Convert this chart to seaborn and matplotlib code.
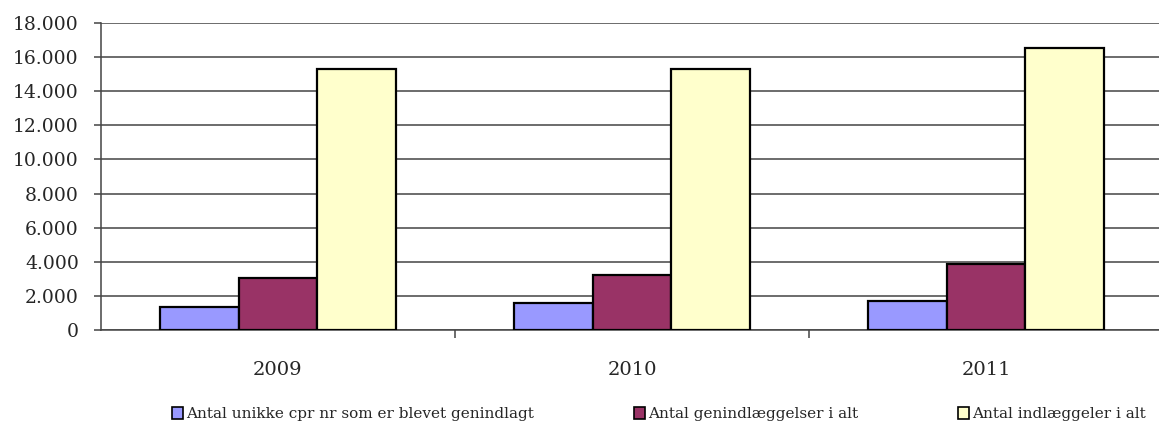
import matplotlib
matplotlib.use("Agg")
import matplotlib.pyplot as plt
import matplotlib.ticker as mticker
from matplotlib.patches import Patch
import seaborn as sns
import pandas as pd

years = ["2009", "2010", "2011"]
series = ["Antal unikke cpr nr som er blevet genindlagt",
          "Antal genindlæggelser i alt",
          "Antal indlæggeler i alt"]
unikke = [1370, 1560, 1720]
genindl = [3030, 3200, 3870]
indl = [15300, 15300, 16520]
colors = ["#9999FF", "#993366", "#FFFFCC"]
yticks = [0, 2000, 4000, 6000, 8000, 10000, 12000, 14000, 16000, 18000]

rows = []
for s, vals in zip(series, [unikke, genindl, indl]):
    for y, v in zip(years, vals):
        rows.append({"year": y, "series": s, "value": v})
df = pd.DataFrame(rows)

sns.set_style("white")
plt.rcParams["font.family"] = ["DejaVu Serif"]

W, H = 1159, 423
fig = plt.figure(figsize=(W / 100, H / 100), dpi=100)
left, right = 101 / W, 1.0
bottom, top = 1 - 330 / H, 1 - 23 / H
ax = fig.add_axes([left, bottom, right - left, top - bottom])

sns.barplot(data=df, x="year", y="value", hue="series", hue_order=series,
            order=years, palette=colors, saturation=1, width=2 / 3,
            edgecolor="black", linewidth=1.6, ax=ax, legend=False, zorder=3)

ax.set_ylim(0, 18000)
ax.set_xlim(-0.5, -0.5 + (W - 101) / 354)
ax.set_yticks(yticks)
ax.yaxis.set_major_formatter(mticker.FuncFormatter(lambda v, p: f"{int(v):,}".replace(",", ".")))
ax.grid(axis="y", color="#444444", linewidth=1.1, zorder=0)
ax.set_axisbelow(True)
for side in ["top", "right"]:
    ax.spines[side].set_visible(False)
for side in ["left", "bottom"]:
    ax.spines[side].set_color("#444444")
    ax.spines[side].set_linewidth(1.1)

ax.tick_params(axis="y", which="major", length=5, width=1.1, color="#444444",
               labelsize=13.5, pad=11, left=True)
ax.tick_params(axis="x", which="major", length=0, labelsize=14, pad=22)
ax.set_xticks([0.5, 1.5], minor=True)
ax.tick_params(axis="x", which="minor", length=6, width=1.1, color="#444444", bottom=True)
ax.set_xlabel("")
ax.set_ylabel("")

legend_x = [172, 634, 958]
for s, c, lx in zip(series, colors, legend_x):
    h = Patch(facecolor=c, edgecolor="black", linewidth=1.2)
    fig.legend([h], [s], loc="center left", bbox_to_anchor=(lx / W, 1 - 414 / H),
               frameon=False, fontsize=11, handlelength=0.75, handleheight=0.8,
               handletextpad=0.15, borderpad=0, borderaxespad=0)

fig.savefig("out.png", dpi=100)
